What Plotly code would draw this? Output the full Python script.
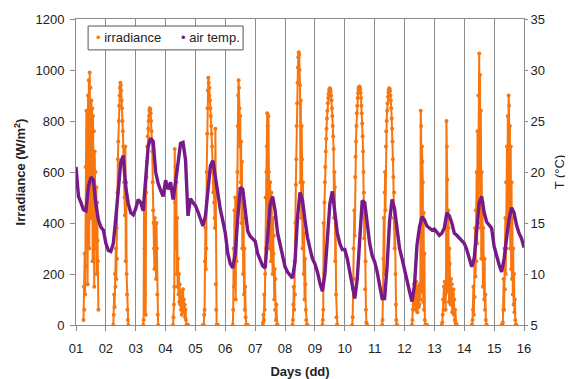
import plotly.graph_objects as go

# ---------------- data ----------------
day_labels = ["01", "02", "03", "04", "05", "06", "07", "08", "09", "10",
              "11", "12", "13", "14", "15", "16"]
legend_labels = ["irradiance", "air temp."]

# irradiance readings every 20 min from 06:00 to 18:00 (37 per day), W/m2
irr_step_min = 20
irr_start_h = 6
irr_d01 = [20, 150, 60, 280, 120, 620, 230, 840, 400, 760, 160, 900, 540, 960, 300, 990, 700, 930, 420,
           880, 600, 850, 250, 820, 520, 760, 150, 680, 380, 600, 300, 540, 200, 480, 330, 250, 60]
irr_d02 = [0, 40, 120, 70, 200, 150, 300, 180, 380, 260, 520, 650, 720, 800, 860, 900, 930, 950, 940,
           920, 880, 850, 800, 760, 700, 640, 560, 500, 430, 700, 250, 560, 200, 120, 60, 20, 0]
irr_d03 = [0, 20, 480, 300, 120, 400, 40, 520, 580, 640, 700, 740, 770, 800, 820, 840, 850, 845, 830,
           800, 760, 720, 680, 560, 450, 400, 300, 220, 420, 330, 260, 180, 400, 300, 120, 40, 0]
irr_d04 = [0, 30, 80, 150, 690, 480, 620, 300, 560, 200, 420, 150, 260, 120, 200, 90, 160, 80, 130,
           60, 110, 40, 100, 70, 140, 60, 100, 50, 80, 30, 60, 20, 0, 0, 0, 0, 0]
irr_d05 = [0, 0, 0, 40, 60, 250, 380, 220, 300, 600, 750, 850, 920, 970, 950, 900, 930, 880, 850,
           820, 780, 750, 700, 640, 600, 520, 560, 480, 420, 380, 770, 160, 60, 0, 0, 0, 0]
irr_d06 = [0, 60, 300, 150, 450, 200, 500, 100, 380, 250, 480, 600, 780, 900, 960, 930, 850, 700, 820,
           560, 720, 400, 640, 300, 520, 200, 420, 120, 300, 60, 150, 30, 0, 0, 0, 0, 0]
irr_d07 = [0, 10, 40, 20, 120, 60, 200, 500, 300, 600, 700, 830, 780, 400, 820, 600, 500, 300, 560,
           440, 250, 520, 360, 470, 200, 420, 280, 350, 100, 220, 60, 180, 20, 80, 0, 0, 0]
irr_d08 = [0, 20, 80, 150, 60, 250, 120, 400, 550, 650, 780, 870, 950, 1010, 1050, 1070, 1060, 1000, 940,
           560, 880, 420, 780, 650, 300, 560, 450, 200, 360, 100, 260, 160, 60, 20, 0, 0, 0]
irr_d09 = [0, 20, 60, 400, 200, 480, 560, 620, 680, 730, 770, 810, 840, 870, 890, 905, 915, 925, 928,
           925, 915, 900, 880, 850, 820, 780, 740, 690, 420, 600, 540, 250, 400, 120, 30, 0, 0]
irr_d10 = [0, 30, 140, 300, 180, 450, 350, 580, 660, 720, 780, 830, 860, 890, 910, 925, 932, 935, 932,
           925, 910, 890, 860, 830, 790, 740, 680, 600, 520, 340, 450, 140, 250, 60, 10, 0, 0]
irr_d11 = [0, 20, 120, 260, 420, 200, 520, 600, 450, 700, 760, 800, 840, 870, 895, 912, 922, 928, 926,
           918, 900, 880, 850, 810, 770, 720, 650, 580, 420, 520, 300, 380, 200, 80, 20, 0, 0]
irr_d12 = [0, 20, 60, 120, 80, 160, 100, 140, 60, 120, 170, 90, 130, 50, 110, 150, 70, 120, 80,
           160, 100, 840, 780, 130, 700, 640, 560, 90, 440, 60, 280, 20, 0, 0, 0, 0, 0]
irr_d13 = [0, 10, 40, 100, 60, 150, 90, 170, 120, 60, 160, 800, 700, 570, 130, 450, 380, 90, 300,
           240, 150, 80, 180, 110, 160, 50, 120, 70, 140, 40, 100, 20, 60, 10, 0, 0, 0]
irr_d14 = [0, 0, 20, 60, 150, 40, 260, 110, 380, 190, 450, 250, 600, 320, 760, 400, 900, 520, 1065,
           700, 980, 380, 840, 260, 600, 300, 480, 150, 380, 220, 100, 260, 60, 120, 20, 0, 0]
irr_d15 = [0, 0, 0, 10, 60, 180, 60, 300, 140, 420, 200, 560, 300, 700, 380, 820, 480, 900, 860,
           400, 780, 300, 700, 220, 560, 180, 420, 120, 300, 80, 200, 50, 100, 20, 0, 0, 0]
irr_days = [irr_d01, irr_d02, irr_d03, irr_d04, irr_d05, irr_d06, irr_d07, irr_d08,
            irr_d09, irr_d10, irr_d11, irr_d12, irr_d13, irr_d14, irr_d15]

# air temperature every 2 h from day 01 00:00 to day 16 00:00, deg C
temp_step_h = 2
temp_d01 = [20.5, 17.6, 17.0, 16.3, 16.2, 18.6, 19.5, 19.2, 16.8, 15.3, 14.6, 14.3]
temp_d02 = [13.0, 12.3, 12.2, 13.0, 15.5, 18.2, 21.0, 21.6, 18.5, 16.9, 16.0, 15.8]
temp_d03 = [16.4, 17.3, 17.0, 16.2, 19.0, 22.5, 23.3, 23.0, 20.0, 18.9, 18.2, 17.6]
temp_d04 = [19.2, 18.3, 19.0, 17.3, 19.0, 21.0, 22.8, 22.9, 21.2, 15.7, 17.4, 17.0]
temp_d05 = [16.7, 16.1, 15.5, 14.7, 15.7, 18.5, 20.6, 21.1, 19.5, 17.6, 16.3, 15.2]
temp_d06 = [14.0, 12.0, 11.0, 10.6, 12.0, 15.5, 18.5, 18.3, 16.0, 14.2, 13.7, 13.5]
temp_d07 = [13.2, 12.0, 11.3, 10.8, 10.6, 13.3, 16.8, 17.6, 16.2, 14.0, 12.8, 11.6]
temp_d08 = [10.7, 10.2, 9.9, 9.6, 11.2, 15.5, 18.0, 17.2, 15.3, 13.6, 12.5, 11.5]
temp_d09 = [11.0, 10.2, 9.1, 8.3, 10.0, 14.0, 16.9, 18.1, 16.0, 14.0, 13.0, 12.4]
temp_d10 = [12.4, 11.5, 10.2, 8.8, 7.6, 9.5, 13.5, 17.2, 17.0, 14.8, 13.0, 11.8]
temp_d11 = [11.2, 10.2, 9.0, 7.6, 7.6, 10.8, 15.2, 17.3, 16.4, 14.2, 12.5, 11.5]
temp_d12 = [10.3, 9.4, 8.3, 7.3, 8.9, 12.8, 14.6, 15.6, 15.3, 14.7, 14.5, 14.3]
temp_d13 = [14.4, 14.1, 13.8, 14.0, 14.5, 16.0, 15.7, 15.0, 14.0, 13.8, 13.5, 13.3]
temp_d14 = [13.0, 12.4, 11.6, 10.7, 11.5, 14.5, 17.0, 17.6, 16.0, 15.1, 14.8, 14.5]
temp_d15 = [12.7, 11.7, 10.9, 10.2, 11.5, 13.5, 15.4, 16.5, 16.0, 14.8, 14.0, 13.5]
temp_d16 = [12.6]
temp_days = [temp_d01, temp_d02, temp_d03, temp_d04, temp_d05, temp_d06, temp_d07, temp_d08,
             temp_d09, temp_d10, temp_d11, temp_d12, temp_d13, temp_d14, temp_d15, temp_d16]

# ---------------- build series ----------------
irr_x, irr_y = [], []
for d, vals in enumerate(irr_days, start=1):
    for i, v in enumerate(vals):
        irr_x.append(d + (irr_start_h + i * irr_step_min / 60) / 24)
        irr_y.append(v)
    irr_x.append(None)
    irr_y.append(None)

temp_x, temp_y = [], []
for d, vals in enumerate(temp_days, start=1):
    for i, v in enumerate(vals):
        temp_x.append(d + i * temp_step_h / 24)
        temp_y.append(v)

ORANGE = "#F7760F"
PURPLE = "#751A88"
GRID = "#8C8C8C"
TXT = "#222222"
FONT = "Liberation Sans, Arial, sans-serif"

fig = go.Figure()
fig.add_trace(go.Scatter(x=irr_x, y=irr_y, mode="lines+markers", connectgaps=False,
                         line=dict(color=ORANGE, width=2),
                         marker=dict(color=ORANGE, size=4), showlegend=False, yaxis="y"))
fig.add_trace(go.Scatter(x=temp_x, y=temp_y, mode="lines",
                         line=dict(color=PURPLE, width=3.4), showlegend=False, yaxis="y2"))

tick_font = dict(family=FONT, size=13, color=TXT)
# page body has an 8 px margin, so the figure is 8 px smaller and offset
fig.update_layout(
    width=565, height=371,
    margin=dict(l=68, r=49, t=11, b=54, autoexpand=False),
    paper_bgcolor="white", plot_bgcolor="white",
    font=dict(family=FONT, size=13, color=TXT),
    showlegend=False,
    xaxis=dict(range=[1, 16], tickvals=list(range(1, 17)), ticktext=day_labels,
               showgrid=True, gridcolor=GRID, gridwidth=1, zeroline=False,
               showline=True, linecolor=GRID, linewidth=1, mirror=True,
               ticks="outside", ticklen=5, tickcolor=GRID, tickfont=tick_font,
               ticklabelstandoff=6, automargin=False,
               title=dict(text="<b>Days (dd)</b>", font=dict(family=FONT, size=13, color=TXT),
                          standoff=12)),
    yaxis=dict(range=[0, 1200], dtick=200, showgrid=False, zeroline=False,
               showline=True, linecolor=GRID, linewidth=1, automargin=False,
               ticks="outside", ticklen=5, tickcolor=GRID, tickfont=tick_font,
               ticklabelstandoff=3,
               title=dict(text="<b>Irradiance (W/m<sup>2</sup>)</b>",
                          font=dict(family=FONT, size=13, color=TXT), standoff=6)),
    yaxis2=dict(range=[5, 35], dtick=5, overlaying="y", side="right", showgrid=False,
                zeroline=False, showline=True, linecolor=GRID, linewidth=1, automargin=False,
                ticks="outside", ticklen=3, tickcolor=GRID, tickfont=tick_font,
                ticklabelstandoff=0,
                title=dict(text="T (°C)", font=dict(family=FONT, size=13, color=TXT),
                           standoff=10)),
)

# legend box drawn as a shape with text entries
fig.add_shape(type="rect", xref="paper", yref="paper", x0=0.027, x1=0.373, y0=0.899, y1=0.977,
              line=dict(color="#555555", width=1), fillcolor="white", layer="above")
legend_x = [0.040, 0.229]
legend_colors = [ORANGE, PURPLE]
for lx, lab, col in zip(legend_x, legend_labels, legend_colors):
    fig.add_annotation(xref="paper", yref="paper", x=lx, y=0.938, xanchor="left", yanchor="middle",
                       showarrow=False,
                       text=f"<span style='color:{col}'>•</span> {lab}",
                       font=dict(family=FONT, size=13, color=TXT))

fig.write_html("out.html")
